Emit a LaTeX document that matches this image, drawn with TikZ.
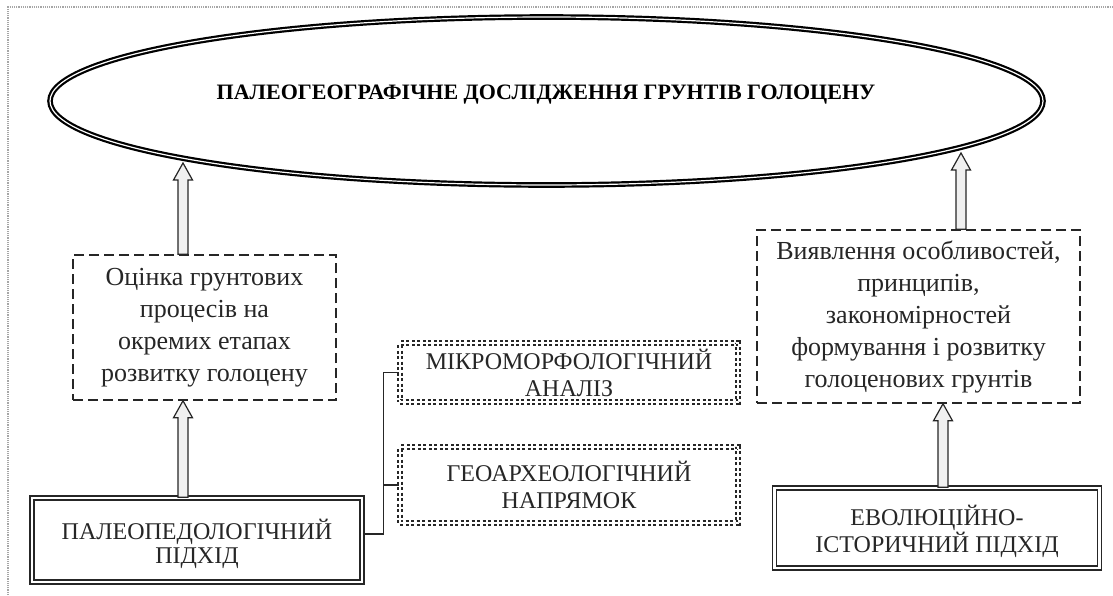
\documentclass[tikz,border=0pt]{standalone}
\usepackage{fontspec}
\setmainfont{Liberation Serif}
\usetikzlibrary{shapes.geometric,calc}
\definecolor{ink}{HTML}{262626}
\tikzset{
  ellbox/.style={ellipse, draw=black, line width=2.2pt, double=white, double distance=1.2pt,
    minimum width=993pt, minimum height=168pt, inner sep=0pt},
  dashbox/.style={draw=ink, line width=1.5pt, dash pattern=on 10pt off 5pt, align=center,
    inner sep=0pt, text=ink, font=\fontsize{26}{32}\selectfont},
  dotbox/.style={draw=ink, line width=1.8pt, double=white, double distance=2.2pt,
    dash pattern=on 3pt off 2.5pt, align=center, inner sep=0pt, text=ink,
    font=\fontsize{24}{27}\selectfont},
  dblbox/.style={draw=ink, line width=1.6pt, double=white, double distance=2.2pt,
    align=center, inner sep=0pt, text=ink, font=\fontsize{24}{27}\selectfont},
  harrow/.style={draw=ink, line width=1.2pt, fill=gray!12, line join=miter},
  link/.style={draw=ink, line width=1.3pt},
  frame/.style={draw=gray!70, line width=1.2pt, densely dotted}
}
\newcommand{\hollowup}[2]{%
  \draw[harrow] ($(#1)+(-5,0)$) -- ($(#2)+(-5,17)$) -- ($(#2)+(-9.5,17)$) -- (#2)
    -- ($(#2)+(9.5,17)$) -- ($(#2)+(5,17)$) -- ($(#1)+(5,0)$) -- cycle;}
\begin{document}
\begin{tikzpicture}[x=1pt,y=-1pt]
\useasboundingbox (0,0) rectangle (1113,595);
\fill[white] (0,0) rectangle (1113,595);
\draw[frame] (8,595) -- (8,7) -- (1113,7);

\node[ellbox] (ell) at (546.5,101) {};
\node[font=\fontsize{22}{26}\selectfont\bfseries] (title) at (546,95)
  {ПАЛЕОГЕОГРАФІЧНЕ ДОСЛІДЖЕННЯ ГРУНТІВ ГОЛОЦЕНУ};

\node[dashbox, minimum width=263pt, minimum height=145pt] (ld) at (204.5,327.5)
  {Оцінка грунтових\\процесів на\\окремих етапах\\розвитку голоцену};
\node[dashbox, minimum width=323pt, minimum height=173pt] (rd) at (918.5,316.5)
  {Виявлення особливостей,\\принципів,\\закономірностей\\формування і розвитку\\голоценових грунтів};

\node[dotbox, minimum width=338pt, minimum height=59pt] (mm) at (569,372.5)
  {МІКРОМОРФОЛОГІЧНИЙ\\АНАЛІЗ};
\node[dotbox, minimum width=338pt, minimum height=76pt] (ga) at (569,485)
  {ГЕОАРХЕОЛОГІЧНИЙ\\НАПРЯМОК};

\node[dblbox, minimum width=330pt, minimum height=84pt,
  font=\fontsize{24}{24}\selectfont] (lb) at (197,540)
  {\rule{0pt}{29pt}ПАЛЕОПЕДОЛОГІЧНИЙ\\ПІДХІД};
\node[dblbox, minimum width=325pt, minimum height=80pt] (rb) at (937,528)
  {\rule{0pt}{27pt}ЕВОЛЮЦІЙНО-\\ІСТОРИЧНИЙ ПІДХІД};

% arrow axes
\coordinate (ax1) at (183,0);
\coordinate (ax2) at (943,0);
\coordinate (ax3) at (961,0);
\coordinate (t1) at (183,163);
\coordinate (t3) at (961,153);
\coordinate (b1) at (ax1 |- ld.north);
\coordinate (b2) at (ax1 |- lb.north);
\coordinate (t2) at (ax1 |- ld.south);
\coordinate (b4) at (ax2 |- rb.north);
\coordinate (t4) at (ax2 |- rd.south);
\coordinate (b3) at (ax3 |- rd.north);

\hollowup{b1}{t1}
\hollowup{b2}{t2}
\hollowup{b4}{t4}
\hollowup{b3}{t3}

% connectors from the paleopedological approach
\coordinate (j) at ($(lb.east)+(21,-6)$);
\draw[link] ($(lb.east)+(0,-6)$) -- (j) |- (mm.west);
\draw[link] (j) |- (ga.west);
\end{tikzpicture}
\end{document}
